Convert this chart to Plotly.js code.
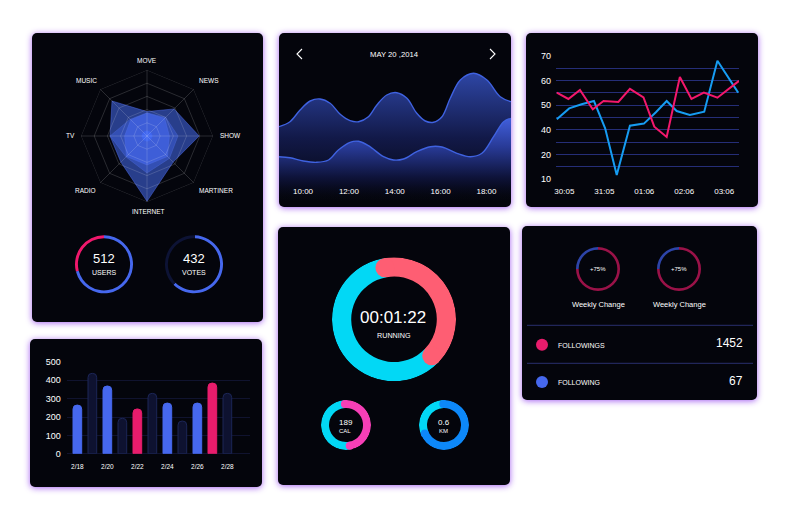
<!DOCTYPE html>
<html>
<head>
<meta charset="utf-8">
<script src="https://cdn.plot.ly/plotly-3.0.1.min.js"></script>
<style>
html,body{margin:0;padding:0;background:#fff;width:789px;height:525px;overflow:hidden}
.card{position:absolute;background:#04050c;border-radius:5px;box-shadow:0 1px 6px rgba(160,90,240,.95)}
#plot{position:absolute;left:0;top:0;width:789px;height:525px}
</style>
</head>
<body>
<div class="card" style="left:32px;top:33px;width:231px;height:289px"></div>
<div class="card" style="left:279px;top:33px;width:232px;height:174px"></div>
<div class="card" style="left:526px;top:33px;width:232px;height:174px"></div>
<div class="card" style="left:30px;top:339px;width:232px;height:148px"></div>
<div class="card" style="left:278px;top:227px;width:232px;height:258px"></div>
<div class="card" style="left:522px;top:226px;width:235px;height:174px"></div>
<div id="plot"></div>
<script>
// ---------- data ----------
const radarCats = ['MOVE','NEWS','SHOW','MARTINER','INTERNET','RADIO','TV','MUSIC'];
const radarOuter = [37,58,79,56,99,56,56,75];
const radarMiddle = [35,40,47,48,56,45,56,36];
const radarInner = [35,38,34,44,44,44,34,35];
const radarCore  = [8,8,8,8,8,8,8,8];
const radarRings = [20,40,60,80,100];

const areaUpperX = [8.95,9.43,9.87,10.31,10.74,11.18,11.62,12.05,12.42,12.85,13.22,13.65,14.09,14.53,14.96,15.33,15.69,16.06,16.42,16.86,17.44,18.02,18.60,19.07];
const areaUpperY = [80.3,85.3,97,106,108,103.7,92.7,86.3,85.3,90.3,102,112,114.3,108.7,93.7,86,84.7,90.3,108.7,127,133.7,127,110.3,105.3];
const areaLowerX = [8.95,9.43,10.01,10.60,11.11,11.54,12.05,12.42,12.85,13.51,13.94,14.38,14.96,15.55,16.06,16.71,17.30,17.80,18.31,18.75,19.07];
const areaLowerY = [50.3,49.3,46,44.7,47,57,64.7,65.7,61.3,50.3,47,48,55.3,60.3,60,53.7,50.3,53.7,70.3,85.3,88.7];
const areaTickVals = [10,12,14,16,18];
const areaTickText = ['10:00','12:00','14:00','16:00','18:00'];

const lineBlueX = [-0.19,0.12,0.43,0.74,1.02,1.31,1.64,1.99,2.29,2.56,2.81,3.14,3.5,3.83,4.35];
const lineBlueY = [39.2,44.5,46.5,48.1,34.8,12.1,36.1,37.1,42.6,48.1,43.2,41.3,42.9,67.7,52.2];
const linePinkX = [-0.19,0.10,0.39,0.71,0.98,1.35,1.64,1.98,2.25,2.56,2.89,3.18,3.49,3.83,4.37];
const linePinkY = [52.2,49.1,53.5,44.1,48.1,47.6,54,49.9,35.6,30.6,59.8,49.1,52.2,49.7,57.9];
const lineYTicks = [10,16,22,28,34,40,46,52,58,64,70];
const lineYText  = ['10','','20','','40','','50','','60','','70'];
const lineXTicks = [0,1,2,3,4];
const lineXText  = ['30:05','31:05','01:06','02:06','03:06'];

const barCats = ['2/18','2/19','2/20','2/21','2/22','2/23','2/24','2/25','2/26','2/27','2/28'];
const barVals = [265,438,369,193,244,329,276,178,276,385,329];
const barColors = ['#4668ee','#0e1230','#4668ee','#0e1230','#e81c6c','#0e1230','#4668ee','#0e1230','#4668ee','#e81c6c','#0e1230'];
const barLines  = ['#4668ee','#1c2657','#4668ee','#1c2657','#e81c6c','#1c2657','#4668ee','#1c2657','#4668ee','#e81c6c','#1c2657'];
const barTicks = ['2/18','2/20','2/22','2/24','2/26','2/28'];

const usersShares = [71,29];
const votesShares = [62,38];
const weeklyShares = [75,25];
const runningShares = [40,60];
const calShares = [48,52];
const kmShares = [69,31];

// ---------- helpers (pixel layout to paper fractions) ----------
const W = 789, H = 525;
const dx = (a,b) => [a/W, b/W];
const dy = (top,bottom) => [1-bottom/H, 1-top/H];
const note = (x,y,text,size,extra) => Object.assign({
  xref:'paper', yref:'paper', x:x/W, y:1-y/H, text:text, showarrow:false,
  xanchor:'center', yanchor:'middle',
  font:{family:'Liberation Sans, Arial, sans-serif', size:size, color:'#ffffff'}
}, extra||{});
const px = (x,y) => (x/W)+' '+(1-y/H);
const chevron = (a,b,c) => ({type:'path', xref:'paper', yref:'paper',
  path:'M '+px(a[0],a[1])+' L '+px(b[0],b[1])+' L '+px(c[0],c[1]),
  line:{color:'#ffffff', width:1.1}});
const hline = (x0,x1,y) => ({type:'line', xref:'paper', yref:'paper', x0:x0/W, x1:x1/W, y0:1-y/H, y1:1-y/H, line:{color:'#2a2f6e', width:1}});
const dot = (cx,cy,r,c) => ({type:'circle', xref:'paper', yref:'paper', x0:(cx-r)/W, x1:(cx+r)/W, y0:1-(cy+r)/H, y1:1-(cy-r)/H, fillcolor:c, line:{width:0}});

const closed = a => a.concat([a[0]]);
const radarTrace = (vals, fill, line) => ({type:'scatterpolar', subplot:'polar', mode:'lines',
  r:closed(vals), theta:closed(radarCats), fill:'toself', fillcolor:fill,
  line:{color:line, width:0.6}, hoverinfo:'skip'});
const gridLine = {color:'rgba(255,255,255,0.22)', width:0.7};
const radarRingTraces = radarRings.map(v => ({type:'scatterpolar', subplot:'polar', mode:'lines',
  r:closed(radarCats.map(() => v)), theta:closed(radarCats), line:gridLine, hoverinfo:'skip'}));
const radarSpokeTraces = radarCats.map(c => ({type:'scatterpolar', subplot:'polar', mode:'lines',
  r:[0,100], theta:[c,c], line:gridLine, hoverinfo:'skip'}));

const thinRing = (cx,cy,r,hole,vals,colors,rotation) => ({type:'pie', values:vals, sort:false, direction:'clockwise',
  rotation:rotation, hole:hole, textinfo:'none', hoverinfo:'skip', showlegend:false,
  marker:{colors:colors, line:{width:0}},
  domain:{x:dx(cx-r,cx+r), y:dy(cy-r,cy+r)}});

// Ring with round-capped highlighted arc: [highlight share, rest share]
const capRing = (sub, shares, start, hole, colors, capPx) => {
  const a = shares[0]*3.6, b = shares[1]*3.6, mid = (100+hole*100)/2;
  return [
    {type:'barpolar', subplot:sub, r:[100-hole*100,100-hole*100], base:[hole*100,hole*100],
     theta:[start+a+b/2, start+a/2], width:[b,a], marker:{color:[colors[1],colors[0]], line:{width:0}}, hoverinfo:'skip'},
    {type:'scatterpolar', subplot:sub, mode:'markers', r:[mid,mid], theta:[start,start+a],
     marker:{size:capPx, color:colors[0], line:{width:0}}, hoverinfo:'skip'}
  ];
};
const ringPolar = (cx,cy,r) => ({
  domain:{x:dx(cx-r,cx+r), y:dy(cy-r,cy+r)}, bgcolor:'rgba(0,0,0,0)',
  angularaxis:{visible:false, direction:'clockwise', rotation:90},
  radialaxis:{visible:false, range:[0,100]}
});

const axisFont = s => ({family:'Liberation Sans, Arial, sans-serif', size:s, color:'#ffffff'});

// ---------- traces ----------
const traces = [
  // area chart
  {type:'scatter', xaxis:'x', yaxis:'y', mode:'lines', x:areaUpperX, y:areaUpperY, fill:'tozeroy',
   line:{shape:'spline', smoothing:1, color:'#3f62e0', width:1.4},
   fillgradient:{type:'vertical', start:134, stop:4, colorscale:[[0,'rgba(46,70,165,1)'],[0.5,'rgba(18,25,72,1)'],[0.85,'rgba(7,9,26,1)'],[1,'rgba(4,5,12,0)']]},
   hoverinfo:'skip'},
  {type:'scatter', xaxis:'x', yaxis:'y', mode:'lines', x:areaLowerX, y:areaLowerY, fill:'tozeroy',
   line:{shape:'spline', smoothing:1, color:'#3f62e0', width:1.4},
   fillgradient:{type:'vertical', start:90, stop:4, colorscale:[[0,'rgba(66,96,222,1)'],[0.35,'rgba(40,58,150,1)'],[0.7,'rgba(14,19,58,1)'],[1,'rgba(4,5,12,0)']]},
   hoverinfo:'skip'},
  // line chart
  {type:'scatter', xaxis:'x2', yaxis:'y2', mode:'lines', x:lineBlueX, y:lineBlueY, line:{color:'#169cf2', width:2}, hoverinfo:'skip'},
  {type:'scatter', xaxis:'x2', yaxis:'y2', mode:'lines', x:linePinkX, y:linePinkY, line:{color:'#f3186c', width:2}, hoverinfo:'skip'},
  // bars
  {type:'bar', xaxis:'x3', yaxis:'y3', x:barCats, y:barVals, width:0.58,
   marker:{color:barColors, line:{color:barLines, width:1}, cornerradius:4}, hoverinfo:'skip'},
  // radar
  radarTrace(radarOuter,'rgba(65,100,225,0.6)','rgba(80,110,235,0.8)'),
  radarTrace(radarMiddle,'rgba(65,100,230,0.45)','rgba(90,120,235,0.5)'),
  radarTrace(radarInner,'rgba(70,105,240,0.6)','rgba(90,120,240,0.5)'),
  radarTrace(radarCore,'rgba(63,102,240,1)','rgba(63,102,240,1)'),
  ...radarRingTraces,
  ...radarSpokeTraces,
  // thin rings
  thinRing(104,264.3,29,0.9,usersShares,['#4668ee','#f0186c'],0),
  thinRing(194,264.3,29,0.9,votesShares,['#4668ee','#0d1335'],2),
  thinRing(598,269,22,0.88,weeklyShares,['#9a1248','#2d44a8'],0),
  thinRing(679,269,22,0.88,weeklyShares,['#9a1248','#2d44a8'],0),
  // capped rings
  ...capRing('polar2',runningShares,-10,0.69,['#fe5e73','#02d8f5'],19),
  ...capRing('polar3',calShares,-3,0.68,['#f63fb6','#02d8f5'],8),
  ...capRing('polar4',kmShares,-2,0.68,['#0d88f9','#02d8f5'],8)
];

// ---------- layout ----------
const layout = {
  width:W, height:H, margin:{l:0,r:0,t:0,b:0}, showlegend:false, hovermode:false,
  paper_bgcolor:'rgba(0,0,0,0)', plot_bgcolor:'rgba(0,0,0,0)',
  font:{family:'Liberation Sans, Arial, sans-serif', color:'#ffffff'},

  xaxis:{domain:dx(279,511), range:[8.95,19.07], anchor:'free', position:1-185/H, showgrid:false, zeroline:false, showline:false, ticks:'',
         tickmode:'array', tickvals:areaTickVals, ticktext:areaTickText, tickfont:axisFont(8)},
  yaxis:{domain:dy(60,207), range:[0,147], visible:false, fixedrange:true},

  xaxis2:{domain:dx(556,739), range:[-0.21,4.37], anchor:'y2', showgrid:false, zeroline:false, showline:false, ticks:'',
          tickmode:'array', tickvals:lineXTicks, ticktext:lineXText, tickfont:axisFont(8), ticklabelstandoff:6},
  yaxis2:{domain:dy(56,179.3), range:[10,70], anchor:'x2', showgrid:true, gridcolor:'#252e78', gridwidth:1, zeroline:false, showline:false, ticks:'',
          tickmode:'array', tickvals:lineYTicks, ticktext:lineYText, tickfont:axisFont(9), ticklabelstandoff:4},

  xaxis3:{domain:dx(66.7,250), range:[-0.71,11.51], anchor:'y3', type:'category', categoryorder:'array', categoryarray:barCats,
          showgrid:false, zeroline:false, showline:false, ticks:'',
          tickmode:'array', tickvals:barTicks, ticktext:barTicks, tickfont:axisFont(6.5), ticklabelstandoff:8},
  yaxis3:{domain:dy(362,453.7), range:[0,500], anchor:'x3', showgrid:true, gridcolor:'#10132f', gridwidth:1, zeroline:true, zerolinecolor:'#10132f', showline:false, ticks:'',
          tickmode:'array', tickvals:[0,100,200,300,400,500], tickfont:axisFont(9), ticklabelstandoff:5},

  polar:{domain:{x:dx(81,213), y:dy(70,202)}, bgcolor:'rgba(0,0,0,0)', gridshape:'linear',
    angularaxis:{type:'category', categoryorder:'array', categoryarray:radarCats, direction:'clockwise', rotation:90,
      showline:false, showgrid:false, showticklabels:false, ticks:''},
    radialaxis:{range:[0,100], showgrid:false, showticklabels:false, ticks:'', showline:false}
  },
  polar2:ringPolar(394,319.3,62),
  polar3:ringPolar(346,425,25),
  polar4:ringPolar(444,425,25),

  shapes:[
    chevron([302,49],[297,54],[302,59]),
    chevron([490,49],[495,54],[490,59]),
    hline(527,753,325.3),
    hline(527,753,363.3),
    dot(542,344.7,6,'#e81c6c'),
    dot(542,382,6,'#4668ee')
  ],
  annotations:[
    note(147,61,radarCats[0],6.5), note(209,80,radarCats[1],6.5), note(230,136,radarCats[2],6.5),
    note(216,190,radarCats[3],6.5), note(148,211,radarCats[4],6.5), note(85,190,radarCats[5],6.5),
    note(70,136,radarCats[6],6.5), note(86,80,radarCats[7],6.5),
    note(104,258,'512',13), note(104,272,'USERS',7), 
    note(194,258,'432',13), note(194,272,'VOTES',7),
    note(394,54,'MAY 20 ,2014',7.7),
    note(393,317,'00:01:22',17), note(394,335,'RUNNING',7.2),
    note(346,422,'189',8), note(345,431,'CAL',6),
    note(444,422,'0.6',8), note(443,431,'KM',6),
    note(598,269,'+75%',6), note(598,304,'Weekly Change',7.5),
    note(679,269,'+75%',6), note(679,304,'Weekly Change',7.5),
    note(556,345,'FOLLOWINGS',7,{xanchor:'left'}),
    note(556,382,'FOLLOWING',7,{xanchor:'left'}),
    note(745,343,'1452',12,{xanchor:'right'}),
    note(745,381,'67',12,{xanchor:'right'})
  ]
};
Plotly.newPlot('plot', traces, layout, {displayModeBar:false, staticPlot:true});
</script>
</body>
</html>
